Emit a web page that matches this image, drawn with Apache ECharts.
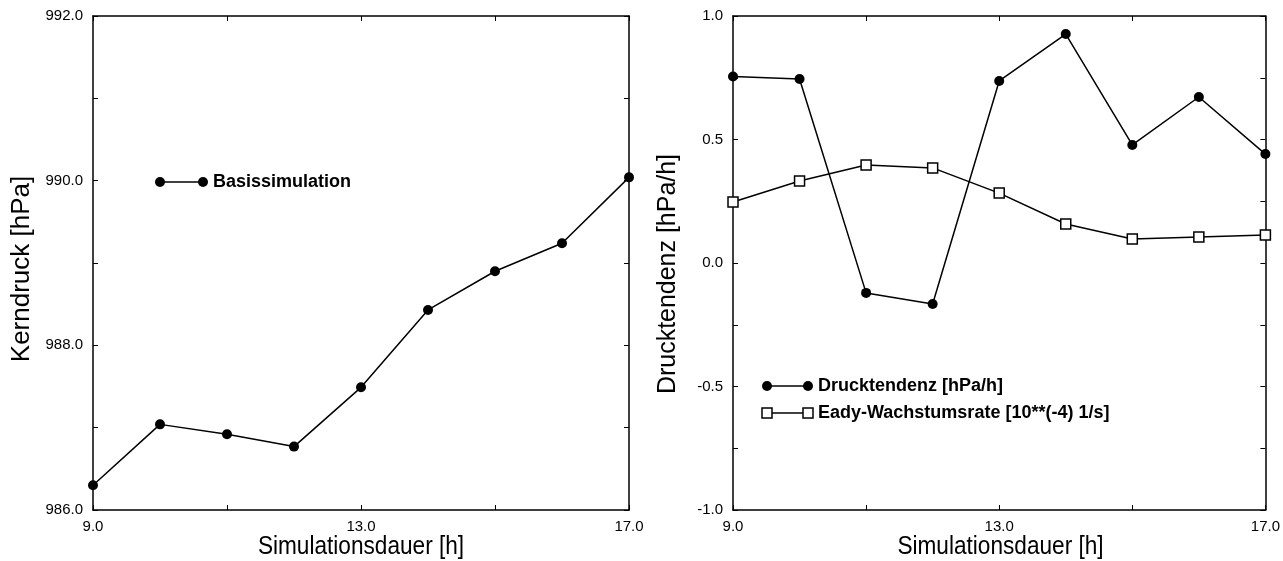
<!DOCTYPE html>
<html>
<head>
<meta charset="utf-8">
<script src="https://cdn.jsdelivr.net/npm/echarts@6/dist/echarts.min.js"></script>
<style>
  html, body { margin: 0; padding: 0; background: #fff; }
  #chart { width: 1283px; height: 561px; }
</style>
</head>
<body>
<div id="chart"></div>
<script>
// Simulation hours (x categories)
const hours = ['9.0', '10.0', '11.0', '12.0', '13.0', '14.0', '15.0', '16.0', '17.0'];

// Core pressure of the base simulation [hPa]
const kerndruck = [986.30, 987.04, 986.92, 986.77, 987.49, 988.43, 988.90, 989.24, 990.04];

// Pressure tendency [hPa/h]
const drucktendenz = [0.755, 0.745, -0.121, -0.166, 0.737, 0.927, 0.478, 0.672, 0.441];

// Eady growth rate [10**(-4) 1/s]
const eady = [0.247, 0.332, 0.397, 0.385, 0.283, 0.158, 0.097, 0.105, 0.113];

// Axis ranges and titles
const leftRange = { min: 986, max: 992, step: 1, labelStep: 2 };
const rightRange = { min: -1, max: 1, step: 0.25, labelStep: 0.5 };
const xTitle = 'Simulationsdauer [h]';
const leftYTitle = 'Kerndruck [hPa]';
const rightYTitle = 'Drucktendenz [hPa/h]';
const legendLeft = ['Basissimulation'];
const legendRight = ['Drucktendenz [hPa/h]', 'Eady-Wachstumsrate [10**(-4) 1/s]'];

const FONT = "'Liberation Sans', Arial, Helvetica, sans-serif";
const INK = '#000';

const G0 = { left: 93, top: 16, width: 536, height: 494 };
const G1 = { left: 733, top: 16, width: 535, height: 494 };

const chart = echarts.init(document.getElementById('chart'), null, { renderer: 'canvas' });

function xAxes(gridIndex) {
  const base = {
    type: 'category',
    data: hours,
    gridIndex: gridIndex,
    boundaryGap: false,
    axisLine: { show: true, onZero: false, lineStyle: { color: INK, width: 1.5 } },
    axisTick: { show: true, inside: true, length: 5, interval: 1, lineStyle: { color: INK, width: 1 } },
    splitLine: { show: false }
  };
  return [
    Object.assign({}, base, {
      position: 'bottom',
      axisLabel: { show: true, interval: 3, margin: 9, color: INK, fontSize: 15, fontFamily: FONT }
    }),
    Object.assign({}, base, {
      position: 'top',
      axisLabel: { show: false }
    })
  ];
}

function isLabelled(v, r) {
  const k = (v - r.min) / r.labelStep;
  return Math.abs(k - Math.round(k)) < 1e-6;
}

function yAxes(gridIndex, r) {
  const base = {
    type: 'value',
    gridIndex: gridIndex,
    min: r.min,
    max: r.max,
    interval: r.step,
    axisLine: { show: true, onZero: false, lineStyle: { color: INK, width: 1.5 } },
    axisTick: { show: true, inside: true, length: 5, lineStyle: { color: INK, width: 1 } },
    splitLine: { show: false }
  };
  return [
    Object.assign({}, base, {
      position: 'left',
      axisLabel: {
        show: true, margin: 10, color: INK, fontSize: 15, fontFamily: FONT,
        formatter: v => isLabelled(v, r) ? v.toFixed(1) : ''
      }
    }),
    Object.assign({}, base, {
      position: 'right',
      axisLabel: { show: false }
    })
  ];
}

const lineBase = {
  type: 'line',
  lineStyle: { color: INK, width: 1.5 },
  itemStyle: { color: INK },
  emphasis: { disabled: true },
  animation: false,
  z: 3
};

// Axis titles as text elements
const titles = [
  { x: G0.left + G0.width / 2, y: 547, rot: 0, text: xTitle, sx: 0.87 },
  { x: G1.left + G1.width / 2, y: 547, rot: 0, text: xTitle, sx: 0.87 },
  { x: 22, y: 269, rot: Math.PI / 2, text: leftYTitle, sx: 1 },
  { x: 668, y: 274, rot: Math.PI / 2, text: rightYTitle, sx: 0.96 }
].map(t => ({
  type: 'text',
  x: t.x, y: t.y, rotation: t.rot, scaleX: t.sx,
  style: {
    text: t.text, fill: INK, font: '26px ' + FONT,
    textAlign: 'center', textVerticalAlign: 'middle'
  }
}));

// Legend key: line with two markers followed by bold label
function legendKey(x0, x1, y, symbol, label) {
  const els = [{
    type: 'line',
    shape: { x1: x0, y1: y, x2: x1, y2: y },
    style: { stroke: INK, lineWidth: 1.5 }
  }];
  [x0, x1].forEach(cx => {
    if (symbol === 'circle') {
      els.push({ type: 'circle', shape: { cx: cx, cy: y, r: 5 }, style: { fill: INK } });
    } else {
      els.push({ type: 'rect', shape: { x: cx - 5, y: y - 5, width: 10, height: 10 },
        style: { fill: '#fff', stroke: INK, lineWidth: 1.5 } });
    }
  });
  els.push({
    type: 'text', x: x1 + 10, y: y,
    style: { text: label, fill: INK, font: 'bold 18px ' + FONT, textVerticalAlign: 'middle' }
  });
  return els;
}

const option = {
  backgroundColor: '#fff',
  animation: false,
  grid: [
    Object.assign({ containLabel: false }, G0),
    Object.assign({ containLabel: false }, G1)
  ],
  xAxis: xAxes(0).concat(xAxes(1)),
  yAxis: yAxes(0, leftRange).concat(yAxes(1, rightRange)),
  series: [
    Object.assign({}, lineBase, {
      name: legendLeft[0], xAxisIndex: 0, yAxisIndex: 0,
      data: kerndruck, symbol: 'circle', symbolSize: 10
    }),
    Object.assign({}, lineBase, {
      name: legendRight[0], xAxisIndex: 2, yAxisIndex: 2,
      data: drucktendenz, symbol: 'circle', symbolSize: 10
    }),
    Object.assign({}, lineBase, {
      name: legendRight[1], xAxisIndex: 2, yAxisIndex: 2,
      data: eady, symbol: 'rect', symbolSize: 10,
      itemStyle: { color: '#fff', borderColor: INK, borderWidth: 1.5 }
    })
  ],
  graphic: titles
    .concat(legendKey(160, 203, 182, 'circle', legendLeft[0]))
    .concat(legendKey(767, 808, 386, 'circle', legendRight[0]))
    .concat(legendKey(767, 808, 413, 'rect', legendRight[1]))
};

chart.setOption(option);
</script>
</body>
</html>
